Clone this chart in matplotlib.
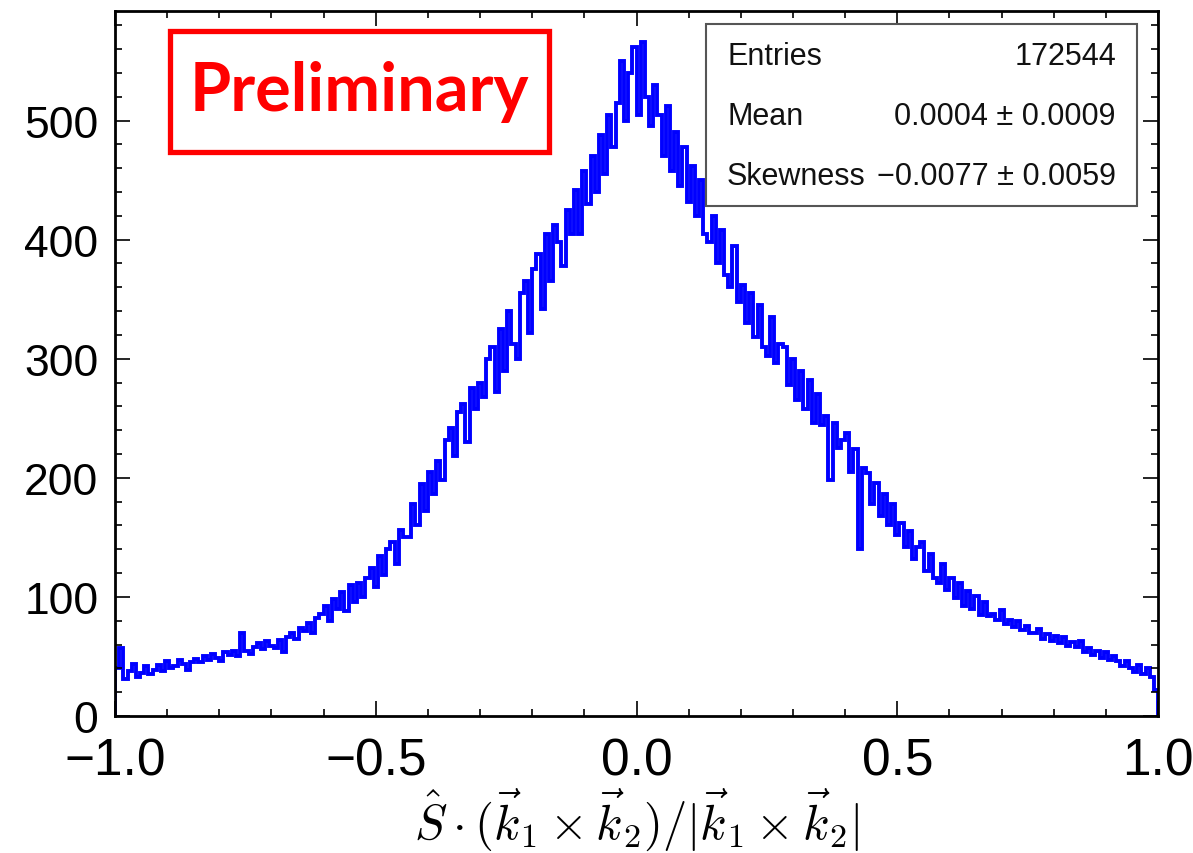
import numpy as np
import matplotlib
matplotlib.use("Agg")
import matplotlib.pyplot as plt
from matplotlib.ticker import MultipleLocator, FixedLocator
from matplotlib.patches import Rectangle

# ---- data (250 bins from -1 to 1) ----
x_min, x_max, n_bins = -1.0, 1.0, 250
counts = [
    40, 57, 31, 38, 44, 33, 36, 42, 35, 39,
    43, 38, 46, 40, 42, 47, 44, 39, 45, 48,
    45, 50, 47, 52, 49, 46, 54, 51, 55, 50,
    70, 55, 52, 58, 61, 56, 63, 59, 57, 64,
    54, 66, 70, 65, 74, 71, 78, 70, 82, 86,
    92, 80, 98, 90, 104, 88, 110, 96, 112, 100,
    116, 124, 108, 134, 118, 140, 146, 128, 156, 150,
    150, 178, 160, 195, 172, 205, 186, 214, 198, 232,
    242, 218, 255, 262, 230, 275, 258, 280, 268, 300,
    310, 272, 325, 290, 340, 312, 300, 355, 365, 322,
    375, 388, 342, 405, 365, 412, 398, 378, 425, 405,
    442, 405, 458, 430, 470, 440, 488, 455, 505, 478,
    515, 550, 500, 540, 562, 505, 566, 520, 495, 530,
    505, 470, 512, 458, 490, 445, 478, 432, 462, 420,
    450, 405, 398, 420, 380, 408, 370, 360, 395, 348,
    362, 330, 355, 318, 345, 310, 302, 335, 296, 312,
    310, 278, 300, 265, 290, 258, 282, 246, 270, 244,
    252, 198, 246, 225, 232, 238, 205, 224, 140, 208,
    204, 178, 196, 168, 186, 160, 178, 152, 162, 142,
    155, 132, 142, 146, 122, 136, 116, 112, 128, 106,
    116, 99, 112, 92, 105, 90, 101, 85, 96, 84,
    86, 81, 89, 77, 81, 75, 80, 72, 76, 70,
    70, 73, 65, 69, 63, 67, 61, 66, 59, 62,
    58, 63, 54, 57, 51, 55, 49, 54, 47, 50,
    46, 42, 46, 40, 37, 43, 35, 40, 33, 22,
]
x_ticks = [-1.0, -0.5, 0.0, 0.5, 1.0]
x_tick_labels = ["\u22121.0", "\u22120.5", "0.0", "0.5", "1.0"]
y_ticks = [0, 100, 200, 300, 400, 500]
stats_names = ["Entries", "Mean", "Skewness"]
stats_values = ["172544", "0.0004 \u00b1 0.0009", "\u22120.0077 \u00b1 0.0059"]

edges = np.linspace(x_min, x_max, n_bins + 1)

plt.rcParams["mathtext.fontset"] = "cm"
fig = plt.figure(figsize=(11.93, 8.54), dpi=100)
ax = fig.add_axes([0.0964, 0.1604, 0.9707 - 0.0964, 0.986 - 0.1604])

ax.stairs(counts, edges, color="#0000ff", linewidth=2.8, baseline=0)
ax.set_xlim(x_min, x_max)
ax.set_ylim(0, 592)

ax.xaxis.set_major_locator(FixedLocator(x_ticks))
ax.set_xticklabels(x_tick_labels)
ax.xaxis.set_minor_locator(MultipleLocator(0.1))
ax.yaxis.set_major_locator(FixedLocator(y_ticks))
ax.yaxis.set_minor_locator(MultipleLocator(20))

ax.tick_params(which="both", direction="in", top=True, right=True, width=1.2)
ax.tick_params(which="major", length=11)
ax.tick_params(which="minor", length=5)
ax.tick_params(axis="x", labelsize=37, pad=15)
ax.tick_params(axis="y", labelsize=32, pad=12)
for lab in ax.get_xticklabels() + ax.get_yticklabels():
    lab.set_family("Liberation Sans")
for sp in ax.spines.values():
    sp.set_linewidth(2.0)

ax.set_xlabel(r"$\hat{S}\cdot(\vec{k}_1\times\vec{k}_2)/|\vec{k}_1\times\vec{k}_2|$",
              fontsize=35, labelpad=0)

# stats box
box = Rectangle((706 / 1193, 1 - 207 / 854), (1137 - 706) / 1193, (207 - 25) / 854,
                transform=fig.transFigure, fill=True, facecolor="white",
                edgecolor="#555555", linewidth=1.5, zorder=5)
fig.patches.append(box)
rows_y = [57, 117, 177]
for name, val, yy in zip(stats_names, stats_values, rows_y):
    fig.text(727 / 1193, 1 - yy / 854, name, ha="left", va="center",
             fontsize=22, family="Liberation Sans", color="#111111", zorder=6)
    fig.text(1116 / 1193, 1 - yy / 854, val, ha="right", va="center",
             fontsize=22, family="Liberation Sans", color="#111111", zorder=6)

# Preliminary box
pbox = Rectangle((170 / 1193, 1 - 153 / 854), (549 - 170) / 1193, (153 - 32) / 854,
                 transform=fig.transFigure, fill=True, facecolor="white",
                 edgecolor="#ff0000", linewidth=3.8, zorder=5)
fig.patches.append(pbox)
fig.text(359 / 1193, 1 - 92 / 854, "Preliminary", ha="center", va="center",
         fontsize=48, fontweight="bold", family="Lato", color="#ff0000", zorder=6)

fig.savefig("out.png", dpi=100, facecolor="white")
